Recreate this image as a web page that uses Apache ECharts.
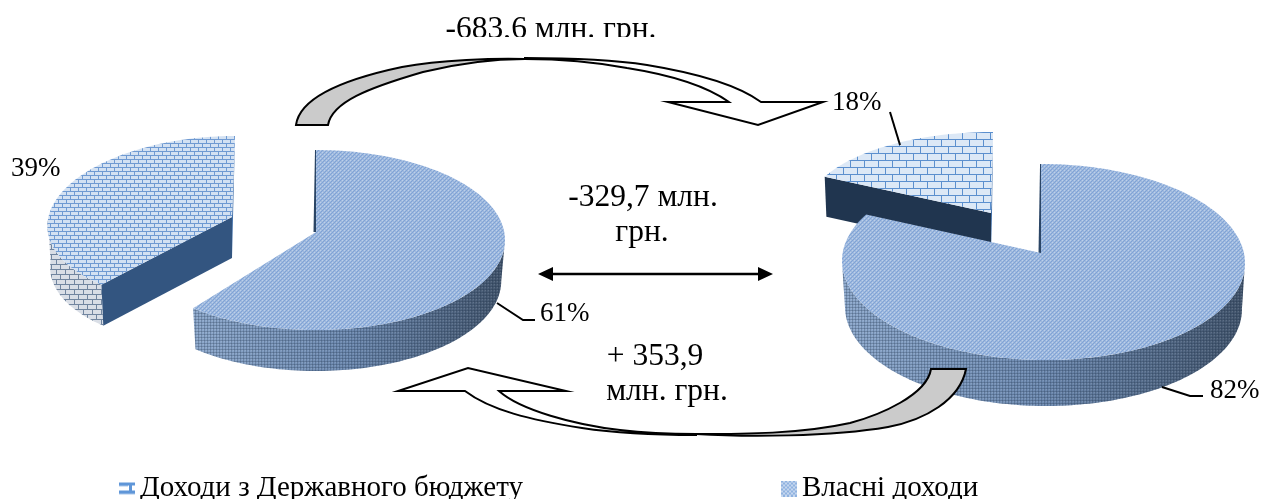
<!DOCTYPE html>
<html>
<head>
<meta charset="utf-8">
<style>html,body{margin:0;padding:0;background:#fff}#chart{width:1262px;height:499px}</style>
<script src="https://cdn.jsdelivr.net/npm/echarts@6/dist/echarts.min.js"></script>
</head>
<body>
<div id="chart"></div>
<script>
// Revenue structure in two periods, drawn as two exploded 3D pies.
const categories = ['Доходи з Державного бюджету', 'Власні доходи'];
const stateShare = [39, 18];
const ownShare = [61, 82];
const flowTop = '-683,6 млн. грн.';
const flowMiddle = ['-329,7 млн.', 'грн.'];
const flowBottom = ['+ 353,9', 'млн. грн.'];

const FONT = '"Liberation Serif", "Times New Roman", serif';
const LABEL_SIZE = 27;
const NOTE_SIZE = 31.5;
const LEGEND_SIZE = 29;

// Projection frame of each slice: [state slice, own slice] per pie.
const frames = [
  [
    { cx: 222.4, cy: 220, rx: 174.5, ry: 84, shear: -0.15, warp: 0, ax: 232, ay: 217, depth: 41, shrink: 0.985 },
    { cx: 316, cy: 240, rx: 189, ry: 90, shear: 0, warp: 1, ax: 316, ay: 232, depth: 41, shrink: 0.98 }
  ],
  [
    { cx: 993, cy: 210, rx: 186, ry: 78, shear: 0, warp: 0, ax: 991, ay: 213, depth: 40, shrink: 0.99 },
    { cx: 1043.5, cy: 262, rx: 201.5, ry: 98, shear: 0.025, warp: -5, ax: 1041, ay: 253, depth: 46, shrink: 0.985 }
  ]
];

// Percent labels and their leader lines.
const labelSpots = [
  [
    { x: 11, y: 169, leader: null },
    { x: 540, y: 314, leader: [[497, 303], [523, 320], [535, 320]] }
  ],
  [
    { x: 832, y: 103, leader: [[890, 112], [900, 145]] },
    { x: 1210, y: 391, leader: [[1162, 387], [1190, 396], [1203, 396]] }
  ]
];

function makeCanvas(w, h, draw) {
  const c = document.createElement('canvas');
  c.width = w; c.height = h;
  draw(c.getContext('2d'));
  return c;
}

// Running-bond brick texture.
function brick(w, row, bg, line) {
  return makeCanvas(w, row * 2, g => {
    g.fillStyle = bg; g.fillRect(0, 0, w, row * 2);
    g.fillStyle = line;
    g.fillRect(0, row - 1, w, 1);
    g.fillRect(0, row * 2 - 1, w, 1);
    g.fillRect(Math.floor(w / 4), 0, 1, row);
    g.fillRect(Math.floor(3 * w / 4), row, 1, row);
  });
}

// Fine dither used on the large slices.
function dither(a, b, c) {
  return makeCanvas(4, 4, g => {
    g.fillStyle = a; g.fillRect(0, 0, 4, 4);
    g.fillStyle = b;
    g.fillRect(0, 0, 1, 1); g.fillRect(2, 2, 1, 1);
    g.fillRect(1, 3, 1, 1); g.fillRect(3, 1, 1, 1);
    g.fillStyle = c;
    g.fillRect(2, 0, 1, 1); g.fillRect(0, 2, 1, 1);
  });
}

const patternOf = image => ({ image: image, repeat: 'repeat' });
const stateTops = [
  patternOf(brick(8, 4, '#d3e1f2', '#6f9ad2')),
  patternOf(brick(14, 7, '#dce8f6', '#5b8fce'))
];
const ownTop = patternOf(dither('#9fb9de', '#7fa3d6', '#bcd0ea'));
const stateRim = patternOf(brick(9, 5, '#d9dee6', '#71859f'));
const sideGrain = patternOf(makeCanvas(3, 3, g => {
  g.fillStyle = 'rgba(20,35,60,0.22)';
  g.fillRect(0, 0, 1, 3); g.fillRect(0, 1, 3, 1);
  g.fillStyle = 'rgba(255,255,255,0.10)';
  g.fillRect(2, 2, 1, 1);
}));

const sideShade = {
  type: 'linear', x: 0, y: 0, x2: 1, y2: 0,
  colorStops: [
    { offset: 0, color: '#8ea9cc' },
    { offset: 0.5, color: '#6f8bb1' },
    { offset: 1, color: '#46586f' }
  ]
};

const stateIcon = makeCanvas(16, 14, g => {
  g.clearRect(0, 0, 16, 14);
  g.fillStyle = '#5f96d8';
  g.fillRect(0, 1, 16, 3);
  g.fillRect(0, 9, 16, 3);
  g.fillRect(10, 1, 3, 11);
  g.fillStyle = '#a9c6ea';
  g.fillRect(0, 4, 9, 1);
  g.fillRect(0, 12, 16, 1);
}).toDataURL();
const ownIcon = makeCanvas(16, 16, g => {
  g.fillStyle = '#c5d7ef'; g.fillRect(0, 0, 16, 16);
  g.fillStyle = '#8fb2e0';
  for (let y = 0; y < 16; y += 2) for (let x = y % 4 ? 2 : 0; x < 16; x += 4) g.fillRect(x, y, 2, 2);
}).toDataURL();

const RAD = Math.PI / 180;

function rimPoint(f, deg, lower) {
  const a = (deg + f.warp * Math.sin(2 * deg * RAD)) * RAD;
  const y = f.cy - f.ry * Math.cos(a);
  const x = f.cx + f.rx * Math.sin(a) + f.shear * (y - f.cy);
  return lower ? [f.cx + (x - f.cx) * f.shrink, y + f.depth] : [x, y];
}

function arc(f, from, to, lower) {
  const pts = [];
  const steps = Math.max(2, Math.ceil(Math.abs(to - from) / 1.5));
  for (let i = 0; i <= steps; i++) pts.push(rimPoint(f, from + (to - from) * i / steps, lower));
  return pts;
}

// Draws one slice of a pie: side wall, cut faces, top face, label and leader.
function sliceRenderer(seriesIdx) {
  return function (params, api) {
    const pie = api.value(0);
    const share = api.value(1);
    const f = frames[pie][seriesIdx];
    const from = seriesIdx === 1 ? 0 : 360 - share * 3.6;
    const to = seriesIdx === 1 ? share * 3.6 : 360;
    const children = [];

    const visFrom = Math.max(from, 90);
    const visTo = Math.min(to, 270);
    if (visTo > visFrom) {
      const wall = arc(f, visFrom, visTo, false).concat(arc(f, visTo, visFrom, true));
      if (seriesIdx === 0) {
        children.push({ type: 'polygon', shape: { points: wall }, style: { fill: stateRim } });
      } else {
        children.push({ type: 'polygon', shape: { points: wall }, style: { fill: sideShade } });
        children.push({ type: 'polygon', shape: { points: wall }, style: { fill: sideGrain } });
      }
    }

    const startTop = rimPoint(f, seriesIdx === 1 ? from : to, false);
    if (seriesIdx === 0) {
      // Dark radial cut facing the viewer, plus the thin far edge.
      const corner = rimPoint(f, from, false);
      const cornerLow = rimPoint(f, from, true);
      const apexLow = [f.ax, f.ay + f.depth];
      children.push({
        type: 'polygon',
        shape: { points: [[f.ax, f.ay], corner, cornerLow, apexLow] },
        style: { fill: pie === 0 ? '#335580' : '#20354f' }
      });
      children.push({
        type: 'polygon',
        shape: { points: [startTop, [f.ax + 1, f.ay], [f.ax, f.ay + f.depth], [f.ax, f.ay]] },
        style: { fill: '#3f6ea8' }
      });
    } else {
      children.push({
        type: 'polygon',
        shape: { points: [startTop, [f.ax + 0.5, f.ay], [f.ax - 2.5, f.ay], [startTop[0] - 1, startTop[1]]] },
        style: { fill: '#2b4565' }
      });
    }

    const top = [[f.ax, f.ay]].concat(arc(f, from, to, false));
    children.push({
      type: 'polygon',
      shape: { points: top },
      style: { fill: seriesIdx === 0 ? stateTops[pie] : ownTop }
    });

    const spot = labelSpots[pie][seriesIdx];
    if (spot.leader) {
      children.push({
        type: 'polyline',
        shape: { points: spot.leader },
        style: { stroke: '#000', lineWidth: 2, fill: null }
      });
    }
    children.push({
      type: 'text',
      style: {
        text: share + '%', x: spot.x, y: spot.y,
        font: LABEL_SIZE + 'px ' + FONT, fill: '#000',
        textAlign: 'left', textVerticalAlign: 'middle'
      }
    });
    return { type: 'group', children: children };
  };
}

const legendBase = {
  orient: 'horizontal', selectedMode: false, itemGap: 0, itemWidth: 16, padding: 0,
  textStyle: { fontFamily: FONT, fontSize: LEGEND_SIZE, color: '#000', padding: [0, 0, 0, 0] }
};

// Flow arrows: a grey tail crescent and a white crescent ending in the head.
const arrowEdge = { stroke: '#000', lineWidth: 2, lineJoin: 'miter' };
const arrowParts = [
  { d: 'M296,125 L328,125 C332,102 368,88 423,72 C460,63 495,59 525,59 C495,58 440,60 402,67 C350,78 300,95 296,125 Z', fill: '#cbcbcb' },
  { d: 'M525,58 C575,58 615,60 647,65 C690,72 735,83 761,102 L823,102 L758,125 L668,102 L729,102 C705,85 665,74 627,68 C595,62 560,59 525,59 Z', fill: '#fff' },
  { d: 'M966,369 L931,369 C927,395 880,415 850,423 C800,434 745,434 696,434 C745,437 830,437 888,427 C925,420 960,400 966,369 Z', fill: '#cbcbcb' },
  { d: 'M696,435 C655,435 615,433 582,428 C530,420 490,410 465,391 L398,391 L468,368 L566,391 L499,391 C520,410 575,425 620,430 C645,433 670,434 696,434 Z', fill: '#fff' }
];

const textBlock = (text, x, y) => ({
  type: 'text', z: 10, x: x, y: y,
  style: { text: text, font: NOTE_SIZE + 'px ' + FONT, fill: '#000', textAlign: 'center', textVerticalAlign: 'middle' }
});

const graphics = [
  { type: 'line', z: 10, shape: { x1: 548, y1: 274, x2: 763, y2: 274 }, style: { stroke: '#000', lineWidth: 2.5 } },
  { type: 'polygon', z: 10, shape: { points: [[538, 274], [553, 267], [553, 281]] }, style: { fill: '#000' } },
  { type: 'polygon', z: 10, shape: { points: [[773, 274], [758, 267], [758, 281]] }, style: { fill: '#000' } },
  textBlock(flowTop, 551, 30),
  { type: 'rect', z: 11, shape: { x: 430, y: 37, width: 240, height: 14 }, style: { fill: '#fff' } },
  textBlock(flowMiddle[0], 643, 198),
  textBlock(flowMiddle[1], 642, 233),
  textBlock(flowBottom[0], 655, 357),
  textBlock(flowBottom[1], 667, 392)
];

const chart = echarts.init(document.getElementById('chart'), null, { renderer: 'canvas' });
chart.setOption({
  animation: false,
  backgroundColor: '#fff',
  legend: [
    Object.assign({}, legendBase, { data: [{ name: categories[0], icon: 'image://' + stateIcon }], left: 119, top: 474, itemHeight: 14 }),
    Object.assign({}, legendBase, { data: [{ name: categories[1], icon: 'image://' + ownIcon }], left: 781, top: 474, itemHeight: 16 })
  ],
  graphic: graphics,
  series: [
    {
      type: 'custom', name: categories[0], coordinateSystem: 'none', z: 2,
      data: stateShare.map((v, i) => [i, v]),
      itemStyle: { color: '#7fa6d8' },
      renderItem: sliceRenderer(0)
    },
    {
      type: 'custom', name: categories[1], coordinateSystem: 'none', z: 3,
      data: ownShare.map((v, i) => [i, v]),
      itemStyle: { color: '#a6bfe0' },
      renderItem: sliceRenderer(1)
    },
    {
      type: 'custom', name: 'arrows', coordinateSystem: 'none', z: 10,
      data: arrowParts.map((p, i) => [i]),
      renderItem: function (params, api) {
        const part = arrowParts[api.value(0)];
        return {
          type: 'path',
          shape: { pathData: part.d },
          style: Object.assign({ fill: part.fill }, arrowEdge)
        };
      }
    }
  ]
});
</script>
</body>
</html>
